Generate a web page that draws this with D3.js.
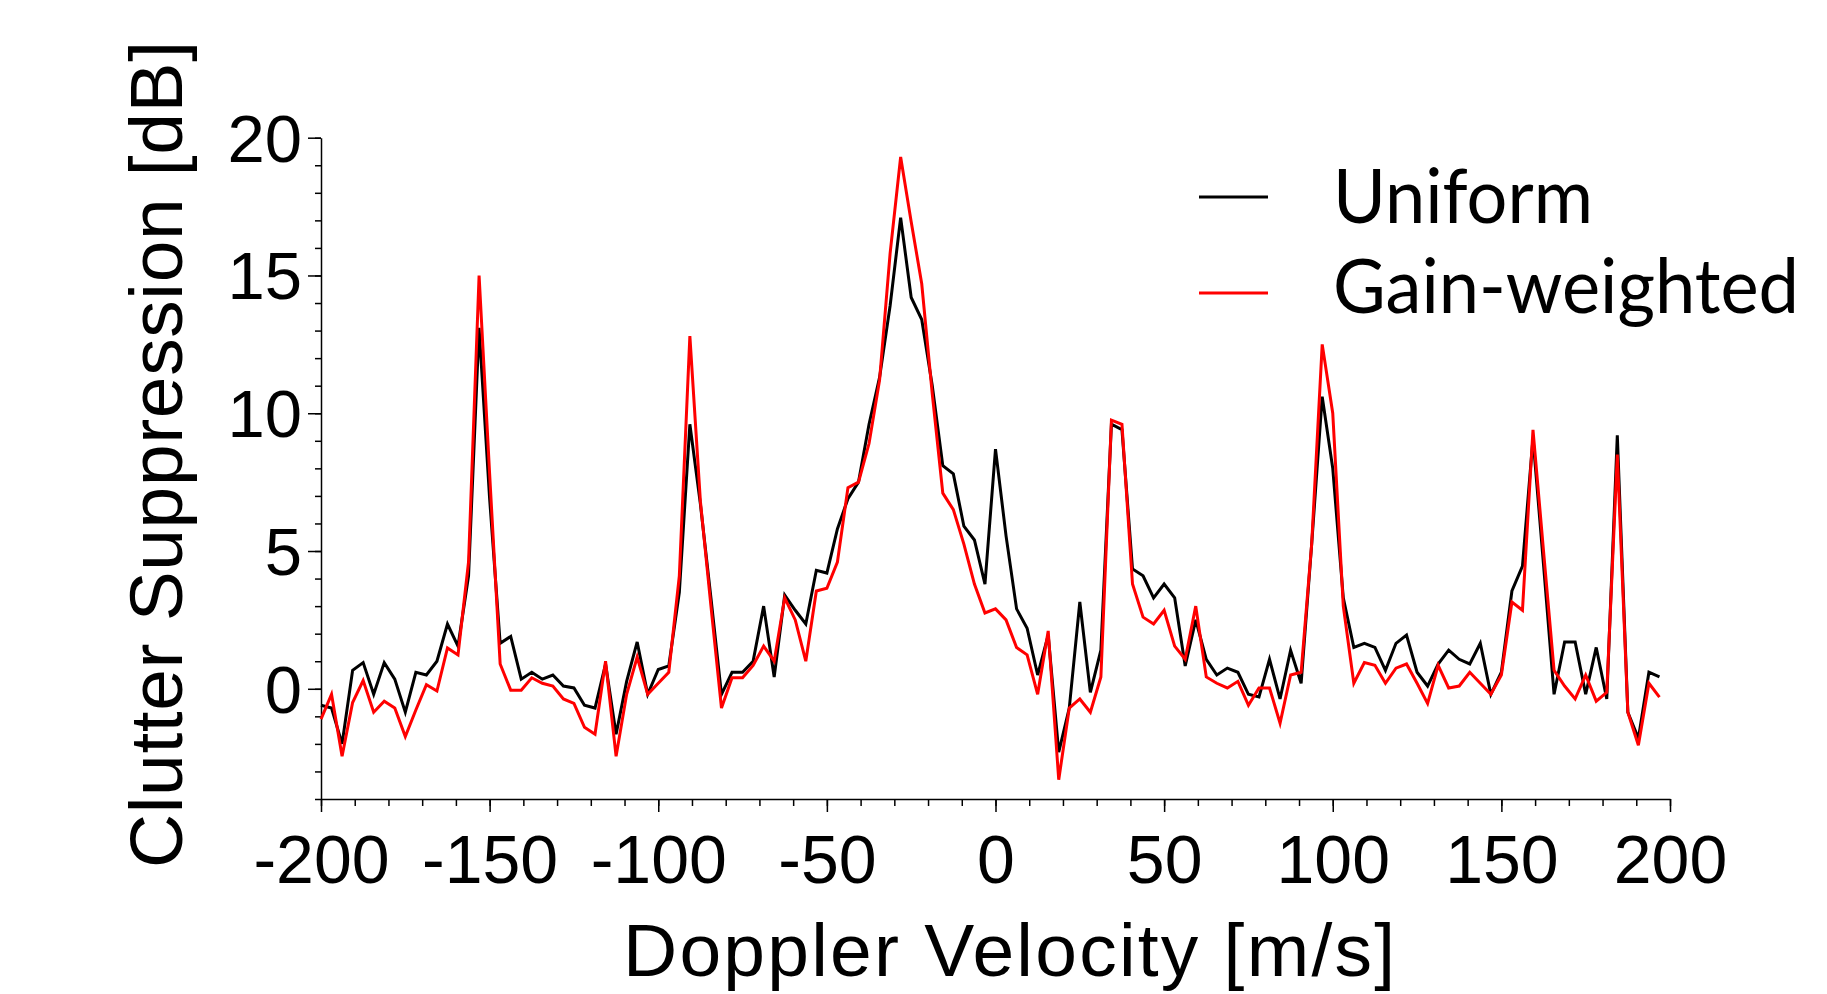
<!DOCTYPE html>
<html>
<head>
<meta charset="utf-8">
<script src="https://cdn.jsdelivr.net/npm/d3@7"></script>
<style>
  html, body { margin: 0; padding: 0; background: #fff; }
  svg { display: block; }
  .tick text { font-family: "Liberation Sans", Arial, sans-serif; fill: #000; }
</style>
</head>
<body>
<svg id="chart" width="1827" height="994"></svg>
<script>
// Doppler bins (m/s)
const velocity = [
  -200, -196.875, -193.75, -190.625, -187.5, -184.375, -181.25, -178.125,
  -175, -171.875, -168.75, -165.625, -162.5, -159.375, -156.25, -153.125,
  -150, -146.875, -143.75, -140.625, -137.5, -134.375, -131.25, -128.125,
  -125, -121.875, -118.75, -115.625, -112.5, -109.375, -106.25, -103.125,
  -100, -96.875, -93.75, -90.625, -87.5, -84.375, -81.25, -78.125,
  -75, -71.875, -68.75, -65.625, -62.5, -59.375, -56.25, -53.125,
  -50, -46.875, -43.75, -40.625, -37.5, -34.375, -31.25, -28.125,
  -25, -21.875, -18.75, -15.625, -12.5, -9.375, -6.25, -3.125,
  0, 3.125, 6.25, 9.375, 12.5, 15.625, 18.75, 21.875,
  25, 28.125, 31.25, 34.375, 37.5, 40.625, 43.75, 46.875,
  50, 53.125, 56.25, 59.375, 62.5, 65.625, 68.75, 71.875,
  75, 78.125, 81.25, 84.375, 87.5, 90.625, 93.75, 96.875,
  100, 103.125, 106.25, 109.375, 112.5, 115.625, 118.75, 121.875,
  125, 128.125, 131.25, 134.375, 137.5, 140.625, 143.75, 146.875,
  150, 153.125, 156.25, 159.375, 162.5, 165.625, 168.75, 171.875,
  175, 178.125, 181.25, 184.375, 187.5, 190.625, 193.75, 196.875
];

// Clutter suppression [dB], uniform weighting (black)
const uniform = [
  -0.6, -0.7, -2.0, 0.67, 0.95, -0.2, 0.95, 0.35,
  -0.85, 0.6, 0.5, 1.0, 2.35, 1.55, 4.1, 13.1,
  6.9, 1.65, 1.9, 0.35, 0.6, 0.35, 0.5, 0.1,
  0.03, -0.6, -0.7, 0.9, -1.65, 0.27, 1.7, -0.2,
  0.7, 0.83, 3.5, 9.6, 6.7, 3.3, -0.2, 0.6,
  0.6, 1.0, 3.0, 0.43, 3.4, 2.85, 2.35, 4.3,
  4.2, 5.8, 6.9, 7.5, 9.6, 11.3, 13.9, 17.1,
  14.2, 13.4, 11.0, 8.1, 7.8, 5.9, 5.4, 3.8,
  8.7, 5.55, 2.9, 2.2, 0.5, 1.95, -2.3, -0.7,
  3.15, -0.13, 1.4, 9.6, 9.4, 4.35, 4.1, 3.3,
  3.8, 3.3, 0.83, 2.5, 1.07, 0.5, 0.75, 0.6,
  -0.2, -0.3, 1.07, -0.37, 1.4, 0.2, 5.25, 10.6,
  8.0, 3.3, 1.5, 1.65, 1.5, 0.67, 1.65, 1.95,
  0.6, 0.1, 0.9, 1.4, 1.07, 0.9, 1.65, -0.2,
  0.6, 3.55, 4.45, 9.1, 4.5, -0.2, 1.7, 1.7,
  -0.2, 1.5, -0.37, 9.2, -0.85, -1.8, 0.6, 0.43
];

// Clutter suppression [dB], gain-weighted (red)
const gainWeighted = [
  -1.1, -0.2, -2.45, -0.5, 0.3, -0.85, -0.45, -0.7,
  -1.73, -0.77, 0.15, -0.08, 1.48, 1.23, 4.6, 15.0,
  7.8, 0.9, -0.05, -0.05, 0.4, 0.2, 0.1, -0.37,
  -0.53, -1.4, -1.65, 1.0, -2.45, -0.2, 1.15, -0.2,
  0.2, 0.6, 4.1, 12.8, 6.8, 3.0, -0.7, 0.4,
  0.4, 0.85, 1.55, 1.0, 3.3, 2.5, 1.0, 3.55,
  3.65, 4.6, 7.3, 7.5, 8.9, 11.2, 15.8, 19.3,
  16.95, 14.7, 10.7, 7.1, 6.5, 5.25, 3.8, 2.75,
  2.9, 2.5, 1.5, 1.23, -0.2, 2.1, -3.3, -0.7,
  -0.37, -0.85, 0.43, 9.75, 9.6, 3.8, 2.6, 2.35,
  2.85, 1.55, 1.07, 3.0, 0.43, 0.2, 0.03, 0.27,
  -0.6, 0.03, 0.03, -1.25, 0.5, 0.6, 5.25, 12.5,
  10.0, 3.0, 0.2, 0.95, 0.85, 0.2, 0.75, 0.9,
  0.2, -0.53, 0.85, 0.03, 0.1, 0.6, 0.2, -0.2,
  0.5, 3.15, 2.85, 9.4, 5.0, 0.67, 0.1, -0.37,
  0.5, -0.45, -0.13, 8.5, -0.85, -2.05, 0.2, -0.3
];

const xMajorTicks = [-200, -150, -100, -50, 0, 50, 100, 150, 200];
const yMajorTicks = [0, 5, 10, 15, 20];
const seriesNames = ['Uniform', 'Gain-weighted'];
const seriesColors = ['#000000', '#ff0000'];

const svg = d3.select('#chart');

// Escalas
const x = d3.scaleLinear().domain([-200, 200]).range([321, 1670]);
const y = d3.scaleLinear().domain([-4, 20]).range([799, 137.7]);

// Ticks menores
svg.append('g')
    .attr('transform', `translate(0,${y(-4)})`)
    .call(d3.axisBottom(x).tickValues(d3.range(-200, 201, 10)).tickSize(7).tickSizeOuter(0).tickFormat(''))
    .call(g => g.select('.domain').remove());

svg.append('g')
    .attr('transform', `translate(${x(-200)},0)`)
    .call(d3.axisLeft(y).tickValues(d3.range(-4, 21, 1)).tickSize(6).tickSizeOuter(0).tickFormat(''))
    .call(g => g.select('.domain').remove());

// Ejes principales (guion simple como en el original)
const xAxis = svg.append('g')
    .attr('transform', `translate(0,${y(-4)})`)
    .call(d3.axisBottom(x).tickValues(xMajorTicks).tickSize(13).tickSizeOuter(0).tickFormat(d => String(d)));
xAxis.selectAll('text')
    .attr('y', 84)
    .attr('dy', 0)
    .style('font-size', '68px');

const yAxis = svg.append('g')
    .attr('transform', `translate(${x(-200)},0)`)
    .call(d3.axisLeft(y).tickValues(yMajorTicks).tickSize(13).tickSizeOuter(0).tickPadding(6).tickFormat(d => String(d)));
yAxis.selectAll('text')
    .attr('dy', '0.35em')
    .style('font-size', '67px');

svg.selectAll('.domain, .tick line')
    .attr('stroke', '#000')
    .attr('stroke-width', 1.5);

// Líneas de datos
const line = d3.line()
    .x((d, i) => x(velocity[i]))
    .y(d => y(d));

[uniform, gainWeighted].forEach((series, i) => {
    svg.append('path')
        .datum(series)
        .attr('fill', 'none')
        .attr('stroke', seriesColors[i])
        .attr('stroke-width', 3)
        .attr('stroke-linejoin', 'miter')
        .attr('d', line);
});

// Etiquetas de ejes
svg.append('text')
    .attr('x', 1009)
    .attr('y', 976)
    .attr('text-anchor', 'middle')
    .attr('textLength', 772)
    .attr('lengthAdjust', 'spacing')
    .style('font-family', '"Liberation Sans", Arial, sans-serif')
    .style('font-size', '75px')
    .text('Doppler Velocity [m/s]');

svg.append('text')
    .attr('transform', 'translate(182,454.5) rotate(-90)')
    .attr('text-anchor', 'middle')
    .attr('textLength', 827)
    .attr('lengthAdjust', 'spacing')
    .style('font-family', '"Liberation Sans", Arial, sans-serif')
    .style('font-size', '75px')
    .text('Clutter Suppression [dB]');

// Leyenda
const legendRows = [
    {y: 197, base: 223, width: 260},
    {y: 293, base: 313, width: 466}
];
const legend = svg.append('g');
seriesNames.forEach((name, i) => {
    legend.append('line')
        .attr('x1', 1199)
        .attr('x2', 1268)
        .attr('y1', legendRows[i].y)
        .attr('y2', legendRows[i].y)
        .attr('stroke', seriesColors[i])
        .attr('stroke-width', 3);
    legend.append('text')
        .attr('x', 1333)
        .attr('y', legendRows[i].base)
        .attr('textLength', legendRows[i].width)
        .attr('lengthAdjust', 'spacingAndGlyphs')
        .style('font-family', 'Lato, "Open Sans", sans-serif')
        .style('font-size', '76px')
        .text(name);
});
</script>
</body>
</html>
